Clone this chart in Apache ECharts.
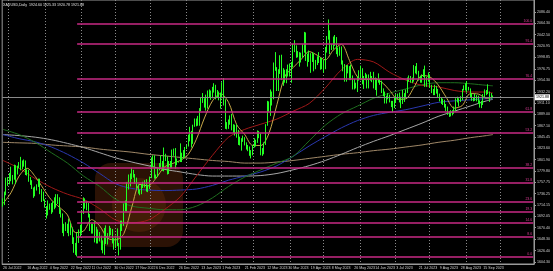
<!DOCTYPE html>
<html><head><meta charset="utf-8">
<script src="https://cdn.jsdelivr.net/npm/echarts@6/dist/echarts.min.js"></script>
<style>html,body{margin:0;padding:0;background:#000}#c{width:553px;height:271px}</style>
</head><body><div id="c"></div>
<script>
const headerText = 'XAUUSD,Daily  1924.60 1925.33 1920.78 1921.88';
const firstOpen = 1716;
const closes = [
1717,1735,1756,1765,1772,1760,1765,1791,1775,1789,
1794,1792,1789,1802,1779,1776,1761,1758,1747,1736,
1748,1751,1758,1738,1737,1723,1711,1697,1712,1710,
1702,1718,1708,1717,1724,1702,1697,1665,1675,1675,
1664,1673,1671,1644,1622,1628,1659,1661,1661,1699,
1725,1716,1712,1695,1668,1666,1673,1666,1644,1650,
1652,1629,1627,1657,1649,1652,1665,1663,1645,1634,
1647,1635,1629,1681,1676,1712,1706,1754,1771,1771,
1778,1774,1761,1751,1738,1740,1750,1755,1754,1741,
1749,1768,1803,1797,1768,1771,1786,1789,1797,1781,
1810,1807,1776,1793,1788,1817,1813,1793,1798,1798,
1814,1804,1815,1824,1826,1839,1855,1833,1865,1872,
1877,1875,1898,1920,1916,1908,1904,1932,1926,1931,
1937,1946,1930,1929,1923,1928,1951,1912,1865,1867,
1873,1875,1861,1865,1854,1854,1836,1836,1842,1841,
1835,1825,1822,1811,1817,1826,1836,1836,1856,1847,
1813,1814,1831,1868,1913,1904,1918,1919,1989,1979,
1940,1970,1993,1977,1956,1973,1964,1980,1969,1984,
2020,2021,2007,2007,1990,2003,2014,2040,2004,1995,
2005,1995,2004,1982,1989,1998,1990,1989,1990,1983,
2016,2039,2050,2017,2021,2034,2030,2015,2011,2017,
1989,1982,1957,1978,1971,1975,1957,1941,1946,1943,
1959,1963,1977,1948,1961,1963,1940,1965,1961,1957,
1943,1942,1957,1957,1951,1936,1932,1913,1921,1923,
1914,1907,1908,1919,1921,1925,1915,1910,1925,1925,
1932,1958,1961,1955,1955,1978,1977,1970,1961,1955,
1965,1972,1945,1959,1965,1944,1934,1934,1943,1936,
1925,1915,1913,1914,1907,1901,1891,1889,1889,1894,
1897,1915,1917,1914,1920,1937,1942,1940,1940,1938,
1926,1916,1919,1919,1922,1913,1908,1910,1924,1934,
1931,1930,1920,1924.60,1921.88];
const highs = [
1727,1740,1767,1768,1776,1788,1772,1792,1791,1790,
1797,1807,1800,1802,1800,1783,1782,1768,1762,1748,
1750,1754,1765,1765,1745,1740,1725,1712,1723,1717,
1718,1721,1729,1735,1735,1729,1706,1698,1678,1681,
1678,1688,1680,1671,1652,1641,1661,1667,1676,1703,
1729,1727,1721,1718,1697,1678,1678,1683,1672,1667,
1662,1655,1646,1670,1675,1660,1674,1670,1668,1650,
1655,1669,1641,1684,1684,1717,1723,1758,1773,1775,
1786,1782,1774,1767,1754,1744,1754,1759,1762,1764,
1753,1769,1806,1810,1810,1773,1787,1795,1810,1799,
1825,1813,1808,1799,1799,1821,1823,1824,1804,1799,
1833,1815,1820,1826,1830,1850,1865,1857,1869,1881,
1881,1886,1901,1922,1930,1920,1927,1935,1937,1935,
1942,1949,1946,1936,1933,1931,1951,1959,1918,1874,
1879,1887,1890,1870,1869,1870,1859,1846,1843,1848,
1845,1835,1830,1827,1820,1830,1843,1840,1858,1857,
1852,1824,1835,1870,1915,1914,1937,1933,1989,2009,
1980,1976,2003,2004,1978,1975,1976,1985,1987,1990,
2025,2032,2022,2011,2009,2008,2024,2048,2047,2006,
2012,2007,2009,2006,1994,2001,2009,1998,1998,1994,
2019,2040,2072,2051,2025,2039,2042,2038,2018,2020,
2020,1993,1986,1984,1984,1982,1985,1964,1957,1950,
1961,1974,1983,1978,1963,1969,1966,1966,1971,1963,
1971,1960,1959,1968,1957,1954,1939,1933,1925,1930,
1927,1915,1915,1921,1928,1929,1931,1923,1936,1930,
1937,1960,1964,1963,1960,1984,1982,1988,1973,1963,
1966,1976,1983,1961,1970,1966,1946,1938,1946,1944,
1938,1929,1922,1919,1917,1909,1904,1895,1897,1897,
1904,1920,1923,1920,1924,1938,1945,1949,1953,1942,
1939,1929,1922,1929,1926,1925,1916,1915,1928,1937,
1936,1947,1933,1930,1925.33];
const lows = [
1711,1714,1733,1751,1754,1760,1754,1763,1755,1773,
1785,1781,1783,1788,1772,1771,1759,1753,1745,1728,
1731,1742,1749,1735,1720,1722,1709,1688,1694,1705,
1697,1700,1706,1709,1716,1697,1690,1660,1654,1664,
1660,1654,1656,1639,1622,1618,1615,1641,1653,1659,
1697,1707,1704,1690,1664,1659,1659,1642,1640,1640,
1644,1627,1621,1618,1639,1638,1652,1656,1640,1628,
1631,1635,1617,1628,1664,1674,1702,1702,1744,1750,
1764,1767,1755,1747,1736,1733,1735,1747,1748,1740,
1739,1745,1766,1787,1765,1765,1768,1781,1786,1780,
1779,1799,1773,1774,1785,1785,1809,1784,1791,1796,
1797,1797,1803,1807,1822,1827,1837,1825,1832,1865,
1866,1867,1867,1895,1911,1902,1896,1900,1922,1917,
1920,1931,1918,1922,1916,1900,1920,1906,1861,1860,
1861,1869,1858,1853,1848,1844,1830,1829,1819,1836,
1829,1821,1818,1809,1804,1810,1825,1827,1834,1843,
1810,1809,1812,1830,1867,1894,1886,1906,1918,1973,
1934,1934,1967,1955,1944,1950,1949,1962,1962,1950,
1980,2009,1998,1999,1981,1989,1998,2008,1992,1981,
1990,1969,1990,1972,1976,1984,1988,1975,1976,1969,
1976,2008,2033,2005,2013,2014,2021,2005,2000,2002,
1985,1972,1952,1952,1968,1955,1955,1937,1937,1939,
1932,1954,1955,1947,1938,1955,1939,1939,1954,1951,
1939,1936,1925,1950,1946,1930,1924,1910,1910,1918,
1912,1903,1893,1901,1911,1918,1912,1901,1909,1913,
1922,1930,1952,1950,1949,1952,1968,1966,1954,1950,
1950,1961,1942,1942,1952,1940,1930,1926,1926,1929,
1922,1914,1909,1907,1902,1895,1888,1884,1885,1887,
1890,1894,1912,1904,1913,1916,1935,1935,1931,1935,
1922,1915,1914,1915,1914,1909,1902,1901,1907,1922,
1926,1928,1913,1919,1920.78];

const priceTicks = [2086.40,2064.30,2042.50,2020.95,1998.85,1976.75,1954.30,1932.20,1911.10,1889.00,1867.10,1845.45,1823.60,1801.90,1779.80,1757.75,1736.25,1714.15,1692.05,1670.40,1648.30,1626.40,1604.30];
const dateLabels = ['26 Jul 2022','16 Aug 2022','4 Sep 2022','22 Sep 2022','11 Oct 2022','30 Oct 2022','17 Nov 2022','6 Dec 2022','26 Dec 2022','13 Jan 2023','1 Feb 2023','21 Feb 2023','12 Mar 2023','30 Mar 2023','19 Apr 2023','8 May 2023','26 May 2023','14 Jun 2023','3 Jul 2023','21 Jul 2023','9 Aug 2023','28 Aug 2023','15 Sep 2023'];
const fibLevels = [2063.3,2024.7,1957.2,1893.6,1853.1,1785.6,1756.7,1720.1,1700.8,1679.6,1652.6,1614.0];
const fibTexts = ['100.0','91.4','76.4','61.8','53.2','38.2','31.8','23.6','19.3','14.6','8.6','0.0'];
const fibStartDate = '2022-09-28';
const currentPrice = 1921.88;

const maStep5 = [0,5,10,15,20,25,30,35,40,45,50,55,60,65,70,75,80,85,90,95,100,105,110,115,120,125,130,135,140,145,150,155,160,165,170,175,180,185,190,195,200,205,210,215,220,225,230,235,240,245,250,255,260,265,270,275,280,285,290,295,300,304];
const maFast = [1717,1738,1770,1785,1769,1746,1724,1710,1695,1661,1664,1686,1674,1650,1647,1659,1711,1754,1751,1766,1787,1794,1800,1812,1841,1882,1915,1929,1912,1869,1850,1829,1829,1852,1908,1963,1979,1995,2010,2003,1994,2013,2024,1993,1961,1956,1958,1951,1935,1918,1919,1941,1964,1961,1946,1922,1901,1906,1929,1928,1920,1922];
const maStep10 = [0,10,20,30,40,50,60,70,80,90,100,110,120,130,140,150,160,170,180,190,200,210,220,230,240,250,260,270,280,290,300,304];
const maRed = [1800,1785,1765,1748,1735,1725,1707,1685,1680,1685,1705,1730,1770,1810,1845,1860,1870,1880,1895,1910,1940,1975,1995,1990,1970,1955,1945,1942,1935,1932,1932,1930];
const maGreen = [1860,1850,1835,1815,1795,1770,1750,1725,1712,1708,1705,1705,1712,1728,1750,1768,1782,1795,1808,1838,1868,1890,1905,1920,1930,1938,1946,1950,1950,1948,1945,1944];
const maBlue = [1850,1842,1836,1826,1812,1795,1775,1755,1746,1743,1742,1743,1745,1752,1762,1770,1778,1790,1808,1828,1846,1863,1877,1887,1893,1898,1905,1912,1915,1917,1919,1919];
const maGrey = [1850,1848,1845,1840,1833,1825,1815,1805,1797,1790,1783,1778,1773,1770,1770,1770,1771,1775,1782,1790,1800,1812,1825,1837,1848,1860,1872,1885,1895,1905,1915,1918];
const maTan = [1835,1834,1833,1830,1828,1826,1822,1819,1816,1812,1809,1806,1803,1800,1798,1795,1795,1797,1800,1804,1808,1812,1815,1819,1822,1826,1830,1835,1839,1844,1848,1850];

const N = 330;
const cats = [], catDates = [];
{
  let d = new Date(Date.UTC(2022,6,26));
  while (cats.length < N) {
    const wd = d.getUTCDay();
    if (wd !== 0 && wd !== 6) {
      catDates.push(new Date(d));
      cats.push(d.toISOString().slice(0,10));
    }
    d.setUTCDate(d.getUTCDate()+1);
  }
}
const mon = {Jan:0,Feb:1,Mar:2,Apr:3,May:4,Jun:5,Jul:6,Aug:7,Sep:8,Oct:9,Nov:10,Dec:11};
const labelAt = {};
dateLabels.forEach(s => {
  const [dd, mm, yy] = s.split(' ');
  const t = Date.UTC(+yy, mon[mm], +dd);
  const idx = catDates.findIndex(x => x.getTime() >= t);
  if (idx >= 0) labelAt[idx] = s;
});
const isMonthStart = i => i > 0 && catDates[i].getUTCMonth() !== catDates[i-1].getUTCMonth();

const candles = closes.map((c, i) => {
  const o = i === 0 ? firstOpen : closes[i-1];
  return [o, c, lows[i], highs[i]];
});
function sparse(idxs, vals) {
  const a = new Array(N).fill(null);
  idxs.forEach((k, j) => { a[k] = vals[j]; });
  return a;
}
const fibStart = cats.indexOf(fibStartDate);
const fibLines = fibLevels.map((v, j) => [
  {coord: [cats[fibStart], v]},
  {coord: [cats[N-1], v], label: {formatter: fibTexts[j]}}
]);

const lineSeries = (name, idxs, vals, color, w) => ({
  name, type: 'line', data: sparse(idxs, vals), connectNulls: true, symbol: 'none',
  smooth: 0.3, silent: true, lineStyle: {color, width: w || 1}, z: 3
});

const FONT = 'Liberation Sans';
const chart = echarts.init(document.getElementById('c'), null, {renderer: 'canvas'});
chart.setOption({
  backgroundColor: '#000000',
  animation: false,
  textStyle: {fontFamily: FONT},
  grid: {left: 0, right: 16, top: 0, bottom: 7, show: true, borderColor: '#9a9a9a', borderWidth: 1},
  xAxis: {
    type: 'category', data: cats, boundaryGap: true,
    axisLine: {lineStyle: {color: '#9a9a9a'}},
    axisTick: {show: false},
    axisLabel: {
      interval: (i) => labelAt[i] !== undefined,
      formatter: (v, i) => labelAt[i] || '',
      showMinLabel: true, hideOverlap: false,
      color: '#d0d0d0', fontSize: 3.6, fontFamily: FONT, align: 'left', margin: 1.5
    },
    splitLine: {show: true, interval: (i) => isMonthStart(i), lineStyle: {color: '#8a8a8a', type: [1, 2], width: 1}}
  },
  yAxis: {
    type: 'value', position: 'right', min: 1600.4, max: 2109.5, scale: true,
    axisLine: {show: true, lineStyle: {color: '#9a9a9a'}},
    axisTick: {show: true, length: 2, customValues: priceTicks, lineStyle: {color: '#9a9a9a'}},
    axisLabel: {customValues: priceTicks, formatter: v => v.toFixed(2), color: '#d0d0d0', fontSize: 3.6, fontFamily: FONT, margin: 3},
    splitLine: {show: false}
  },
  graphic: [
    {type: 'rect', left: 95, top: 163, shape: {width: 88, height: 84, r: 16}, style: {fill: 'rgba(95,40,10,0.45)'}, z: 0, silent: true},
    {type: 'circle', left: 112, top: 178, shape: {r: 27}, style: {fill: 'rgba(120,55,12,0.3)'}, z: 0, silent: true},
    {type: 'text', left: 3, top: 3, style: {text: headerText, fill: '#e0e0e0', fontSize: 3.6, fontFamily: FONT}, z: 10}
  ],
  series: [
    lineSeries('tan', maStep10, maTan, '#a08868'),
    lineSeries('grey', maStep10, maGrey, '#a8a8a8'),
    lineSeries('blue', maStep10, maBlue, '#2a38b0'),
    lineSeries('green', maStep10, maGreen, '#1f6f1f'),
    lineSeries('red', maStep10, maRed, '#a01818'),
    lineSeries('yellow', maStep5, maFast, '#c8a848'),
    {
      name: 'XAUUSD', type: 'candlestick', data: candles, barWidth: 1.3, z: 4,
      itemStyle: {color: '#004400', color0: '#00e000', borderColor: '#22ff22', borderColor0: '#22ff22', borderWidth: 1},
      markLine: {
        silent: true, symbol: 'none', animation: false,
        data: [
          ...fibLines,
          {yAxis: currentPrice, lineStyle: {color: '#8a8a8a', width: 1, type: 'solid'},
           label: {show: true, position: 'end', formatter: currentPrice.toFixed(2), backgroundColor: '#ffffff', color: '#000', fontSize: 3.6, padding: [1, 1], distance: 1}}
        ],
        lineStyle: {color: '#c82a84', width: 1.6, type: 'solid'},
        label: {show: true, position: 'insideEndTop', color: '#d83a94', fontSize: 3.5, distance: 1}
      }
    }
  ]
});
</script></body></html>
